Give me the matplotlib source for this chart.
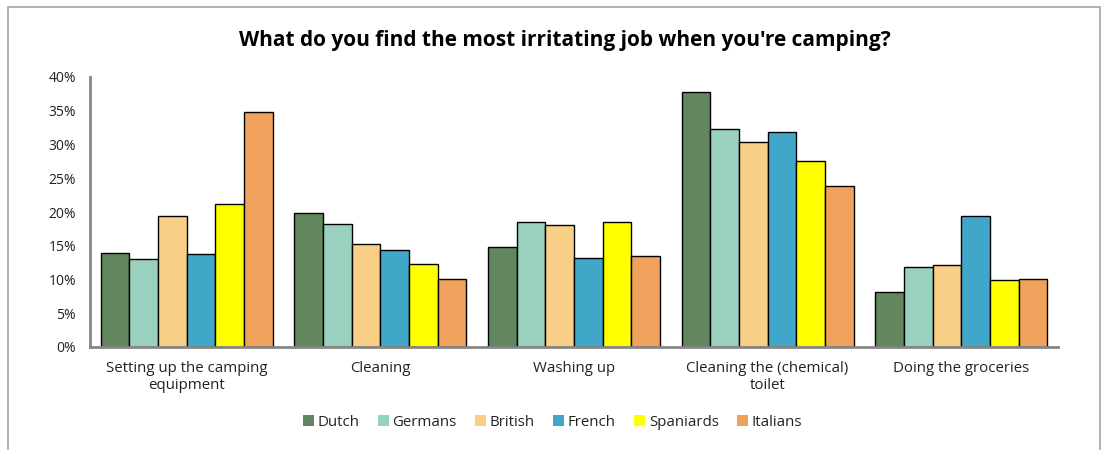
import numpy as np
import matplotlib.pyplot as plt
from matplotlib.patches import Rectangle
from matplotlib.ticker import PercentFormatter

plt.rcParams['font.family'] = ['Open Sans', 'DejaVu Sans']

# survey data (share of respondents)
jobs = ['Setting up the camping\nequipment', 'Cleaning', 'Washing up',
        'Cleaning the (chemical)\ntoilet', 'Doing the groceries']
nations = ['Dutch', 'Germans', 'British', 'French', 'Spaniards', 'Italians']
dutch = [14.0, 19.8, 14.8, 37.8, 8.1]
germans = [13.0, 18.2, 18.5, 32.3, 11.8]
british = [19.4, 15.2, 18.1, 30.3, 12.2]
french = [13.8, 14.3, 13.2, 31.8, 19.4]
spaniards = [21.2, 12.3, 18.5, 27.6, 10.0]
italians = [34.8, 10.1, 13.5, 23.9, 10.1]
colors = ['#62875E', '#99D1BE', '#F9CE86', '#41A7C9', '#FFFF00', '#F0A15C']

series = [dutch, germans, british, french, spaniards, italians]

fig = plt.figure(figsize=(11.07, 4.5), dpi=100)
ax = fig.add_axes([90/1107, 1-347/450, 968/1107, 270/450])

x = np.arange(len(jobs))
w = 0.148
for i, (vals, name, c) in enumerate(zip(series, nations, colors)):
    ax.bar(x + (i - 2.5) * w, np.array(vals) / 100, w, color=c,
           edgecolor='black', linewidth=1.0, label=name, zorder=3)

ax.set_xlim(-0.5, len(jobs) - 0.5)
ax.set_ylim(0, 0.40)
ax.set_yticks(np.arange(0, 0.41, 0.05))
ax.yaxis.set_major_formatter(PercentFormatter(1.0, decimals=0))
ax.set_xticks(x)
ax.set_xticklabels(jobs, fontsize=10.8, color='#222222', linespacing=1.2)
ax.tick_params(axis='y', length=0, pad=10, labelsize=10, labelcolor='#222222')
ax.tick_params(axis='x', length=0, pad=10)

for s in ('top', 'right'):
    ax.spines[s].set_visible(False)
for s in ('left', 'bottom'):
    ax.spines[s].set_color('#868686')
    ax.spines[s].set_linewidth(2)
    ax.spines[s].set_zorder(4)

fig.text(0.51, 0.911, "What do you find the most irritating job when you're camping?",
         ha='center', va='center', fontsize=15, fontweight='bold', color='black')

leg = fig.legend(loc='center', bbox_to_anchor=(0.499, 1-422/450), ncol=6,
                 frameon=False, fontsize=10.8, handlelength=0.75, handleheight=0.75,
                 handletextpad=0.25, columnspacing=1.2, labelcolor='#222222')
for h in leg.legend_handles:
    h.set_edgecolor('none')

# outer chart border
fig.patches.append(Rectangle((8/1107, -0.05), 1092/1107, 1.05 - 7/450,
                             transform=fig.transFigure, fill=False,
                             edgecolor='#A6A6A6', linewidth=1.2))

fig.savefig('out.png', dpi=100)
